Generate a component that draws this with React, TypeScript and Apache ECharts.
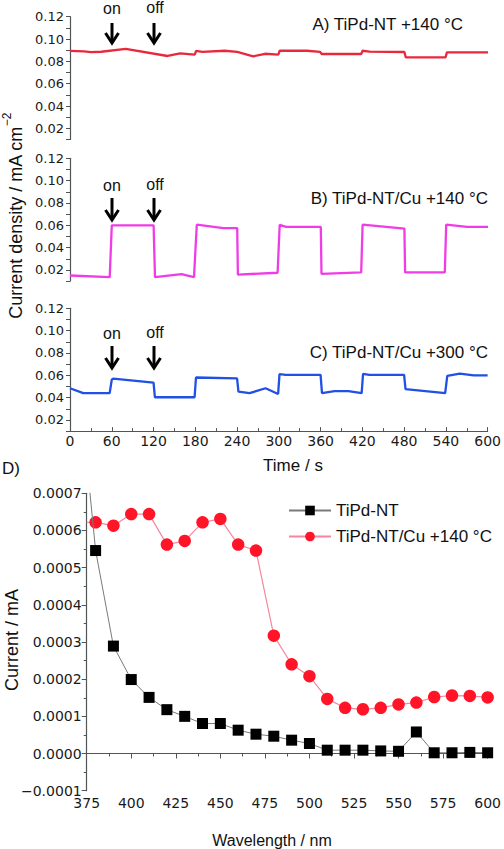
import React, { useEffect, useRef } from "react";
import * as echarts from "echarts";

// ---- Panel A: TiPd-NT +140 °C (time s, current density mA cm^-2)
const timeA = [0, 20, 30, 45, 80, 140, 158, 179, 181, 190, 222, 240, 263, 280, 299, 301, 340, 359, 361, 418, 420, 430, 480, 482, 539, 541, 600];
const currentA = [0.0893, 0.089, 0.0882, 0.0886, 0.0912, 0.0848, 0.0872, 0.086, 0.0893, 0.0885, 0.0895, 0.0885, 0.0845, 0.0868, 0.086, 0.0895, 0.0895, 0.0885, 0.0866, 0.0866, 0.0895, 0.0887, 0.0884, 0.0835, 0.0835, 0.088, 0.088];

// ---- Panel B: TiPd-NT/Cu +140 °C
const timeB = [0, 57, 60, 120, 122, 160, 178, 182, 220, 240, 241, 298, 301, 310, 360, 361, 418, 420, 480, 481, 538, 540, 570, 600];
const currentB = [0.015, 0.0135, 0.06, 0.06, 0.0135, 0.0162, 0.0135, 0.0605, 0.0575, 0.0575, 0.0158, 0.0175, 0.0605, 0.0585, 0.0585, 0.0165, 0.0178, 0.0605, 0.057, 0.0178, 0.0178, 0.0605, 0.0585, 0.0585];

// ---- Panel C: TiPd-NT/Cu +300 °C
const timeC = [0, 19, 57, 60, 62, 120, 122, 179, 181, 240, 242, 258, 281, 299, 301, 310, 360, 362, 380, 400, 419, 421, 430, 480, 482, 539, 542, 560, 580, 600];
const currentC = [0.0484, 0.044, 0.044, 0.056, 0.057, 0.0534, 0.0403, 0.0403, 0.058, 0.0573, 0.0454, 0.044, 0.0484, 0.0433, 0.061, 0.0603, 0.0603, 0.044, 0.0458, 0.0458, 0.044, 0.0612, 0.0603, 0.0603, 0.0476, 0.044, 0.0595, 0.0615, 0.06, 0.06];

// ---- Panel D: photocurrent vs wavelength
const wavelength = [375, 380, 390, 400, 410, 420, 430, 440, 450, 460, 470, 480, 490, 500, 510, 520, 530, 540, 550, 560, 570, 580, 590, 600];
const currentTiPd = [0.00079, 0.000546, 0.000289, 0.000199, 0.000151, 0.000118, 0.0001, 0.0000807, 0.0000807, 0.0000628, 0.000052, 0.0000466, 0.0000359, 0.0000269, 0.000009, 0.000009, 0.000009, 0.000007, 0.000006, 0.000058, 0.000002, 0.000002, 0.000003, 0.000002];
const currentTiPdCu = [0.000622, 0.000622, 0.000613, 0.000644, 0.000644, 0.000562, 0.000572, 0.000622, 0.000631, 0.000562, 0.000546, 0.000317, 0.00024, 0.000208, 0.000147, 0.000123, 0.000119, 0.000123, 0.000132, 0.000137, 0.000152, 0.000156, 0.000155, 0.000151];

const timeTicks = [0, 60, 120, 180, 240, 300, 360, 420, 480, 540, 600];
const panelLabels = ["A) TiPd-NT +140 °C", "B) TiPd-NT/Cu +140 °C", "C) TiPd-NT/Cu +300 °C"];
const seriesNames = ["TiPd-NT", "TiPd-NT/Cu +140 °C"];

const SANS = "'Liberation Sans', Arial, sans-serif";
const NUM = "'DejaVu Sans', sans-serif";
const AXIS = "#505555";

function arrow(x: number, y0: number, y1: number) {
  return [
    { type: "line", shape: { x1: x, y1: y0, x2: x, y2: y1 - 1 }, style: { stroke: "#000", lineWidth: 3 } },
    {
      type: "polyline",
      shape: { points: [[x - 6.5, y1 - 10], [x, y1], [x + 6.5, y1 - 10]] },
      style: { stroke: "#000", lineWidth: 3, fill: null },
    },
  ];
}

function onOff(yText: number, yA0: number, yA1: number) {
  return [
    { type: "text", x: 112, y: yText, style: { text: "on", font: `16px ${SANS}`, fill: "#111", align: "center", verticalAlign: "middle" } },
    { type: "text", x: 155, y: yText - 1, style: { text: "off", font: `16px ${SANS}`, fill: "#111", align: "center", verticalAlign: "middle" } },
    ...arrow(112, yA0, yA1),
    ...arrow(154, yA0, yA1),
  ];
}

export default function App() {
  const ref = useRef<HTMLDivElement>(null);
  useEffect(() => {
    if (!ref.current) return;
    const chart = echarts.init(ref.current, null, { renderer: "svg" });

    const topGrids = [16.7, 158.3, 308.3].map((top) => ({ left: 70, top, width: 418, height: 122.8 }));
    const yTop = (gi: number) => ({
      type: "value",
      gridIndex: gi,
      min: 0.01,
      max: 0.12,
      interval: 0.01,
      axisLine: { show: true, lineStyle: { color: AXIS, width: 1.2 } },
      axisTick: { show: true, length: 4, lineStyle: { color: AXIS } },
      splitLine: { show: false },
      axisLabel: {
        margin: 6,
        fontFamily: NUM,
        fontSize: 13,
        color: "#1a1a1a",
        formatter: (v: number) => {
          const k = Math.round(v * 100);
          return k % 2 === 0 && k >= 2 ? v.toFixed(2) : "";
        },
      },
    });
    const xHidden = (gi: number) => ({ type: "value", gridIndex: gi, min: 0, max: 600, show: false });

    const option: any = {
      animation: false,
      backgroundColor: "#fff",
      grid: [...topGrids, { left: 86.7, top: 493.3, width: 403.3, height: 297.4 }],
      xAxis: [
        xHidden(0),
        xHidden(1),
        {
          type: "value",
          gridIndex: 2,
          min: 0,
          max: 600,
          interval: 60,
          axisLine: { show: true, lineStyle: { color: AXIS, width: 1.2 } },
          axisTick: { show: true, inside: true, length: 4, lineStyle: { color: AXIS } },
          minorTick: { show: true, splitNumber: 2, length: 3, lineStyle: { color: AXIS } },
          splitLine: { show: false },
          axisLabel: {
            margin: 3,
            fontFamily: NUM,
            fontSize: 14,
            color: "#1a1a1a",
            formatter: (v: number) => (timeTicks.includes(v) ? String(v) : ""),
          },
        },
        {
          type: "value",
          gridIndex: 3,
          min: 375,
          max: 600,
          interval: 25,
          axisLine: { show: true, lineStyle: { color: AXIS, width: 1.2 } },
          axisTick: { show: true, length: 5, lineStyle: { color: AXIS } },
          minorTick: { show: true, splitNumber: 2, length: 3, lineStyle: { color: AXIS } },
          splitLine: { show: false },
          axisLabel: { margin: 5, fontFamily: NUM, fontSize: 14, color: "#1a1a1a" },
        },
      ],
      yAxis: [
        yTop(0),
        yTop(1),
        yTop(2),
        {
          type: "value",
          gridIndex: 3,
          min: -0.0001,
          max: 0.0007,
          interval: 0.0001,
          axisLine: { show: true, lineStyle: { color: AXIS, width: 1.2 } },
          axisTick: { show: true, length: 5, lineStyle: { color: AXIS } },
          minorTick: { show: true, splitNumber: 2, length: 3, lineStyle: { color: AXIS } },
          splitLine: { show: false },
          axisLabel: {
            margin: 5,
            fontFamily: NUM,
            fontSize: 14,
            color: "#1a1a1a",
            formatter: (v: number) => {
              const s = (Math.round(v * 1e4) / 1e4).toFixed(4);
              return s.startsWith("-") ? "\u2212" + s.slice(1) : s;
            },
          },
        },
      ],
      legend: {
        left: 283,
        top: 497,
        orient: "vertical",
        itemWidth: 42,
        itemHeight: 12,
        itemGap: 9,
        textStyle: { fontFamily: SANS, fontSize: 17, color: "#111" },
        data: seriesNames,
      },
      series: [
        {
          type: "line",
          xAxisIndex: 0,
          yAxisIndex: 0,
          data: timeA.map((t, i) => [t, currentA[i]]),
          symbol: "none",
          lineStyle: { color: "#e8283c", width: 2.3 },
        },
        {
          type: "line",
          xAxisIndex: 1,
          yAxisIndex: 1,
          data: timeB.map((t, i) => [t, currentB[i]]),
          symbol: "none",
          lineStyle: { color: "#f03ce6", width: 2.3 },
        },
        {
          type: "line",
          xAxisIndex: 2,
          yAxisIndex: 2,
          data: timeC.map((t, i) => [t, currentC[i]]),
          symbol: "none",
          lineStyle: { color: "#2150e4", width: 2.3 },
        },
        {
          name: seriesNames[0],
          type: "line",
          xAxisIndex: 3,
          yAxisIndex: 3,
          data: wavelength.map((w, i) => (i === 0 ? { value: [w, currentTiPd[i]], symbol: "none" } : [w, currentTiPd[i]])),
          symbol: "rect",
          symbolSize: 11,
          itemStyle: { color: "#000" },
          lineStyle: { color: "#7a7a7a", width: 1 },
          z: 3,
        },
        {
          name: seriesNames[1],
          type: "line",
          xAxisIndex: 3,
          yAxisIndex: 3,
          data: wavelength.map((w, i) => (i === 0 ? { value: [w, currentTiPdCu[i]], symbol: "none" } : [w, currentTiPdCu[i]])),
          symbol: "circle",
          symbolSize: 12.5,
          itemStyle: { color: "#ff1428" },
          lineStyle: { color: "#f4889c", width: 1.2 },
          z: 2,
        },
      ],
      graphic: [
        { type: "text", x: 463, y: 24, style: { text: panelLabels[0], font: `17px ${SANS}`, fill: "#111", align: "right", verticalAlign: "middle" } },
        { type: "text", x: 488, y: 198, style: { text: panelLabels[1], font: `17px ${SANS}`, fill: "#111", align: "right", verticalAlign: "middle" } },
        { type: "text", x: 488, y: 352, style: { text: panelLabels[2], font: `17px ${SANS}`, fill: "#111", align: "right", verticalAlign: "middle" } },
        ...onOff(8.5, 23, 43),
        ...onOff(185.5, 198, 220),
        ...onOff(333, 346, 368),
        {
          type: "text",
          x: 13,
          y: 216,
          rotation: Math.PI / 2,
          style: {
            text: "{n|Current density / mA cm}{s|\u22122}",
            align: "center",
            verticalAlign: "middle",
            fill: "#111",
            rich: {
              n: { fontFamily: SANS, fontSize: 18, lineHeight: 24, verticalAlign: "bottom", fill: "#111" },
              s: { fontFamily: SANS, fontSize: 12, lineHeight: 12, verticalAlign: "top", fill: "#111" },
            },
          },
        },
        { type: "text", x: 293, y: 465, style: { text: "Time / s", font: `17px ${SANS}`, fill: "#111", align: "center", verticalAlign: "middle" } },
        { type: "text", x: 2, y: 468, style: { text: "D)", font: `17px ${SANS}`, fill: "#111", align: "left", verticalAlign: "middle" } },
        {
          type: "text",
          x: 12,
          y: 640,
          rotation: Math.PI / 2,
          style: { text: "Current / mA", font: `18px ${SANS}`, fill: "#111", align: "center", verticalAlign: "middle" },
        },
        { type: "text", x: 272, y: 840, style: { text: "Wavelength / nm", font: `16px ${SANS}`, fill: "#111", align: "center", verticalAlign: "middle" } },
      ],
    };
    chart.setOption(option);
    return () => chart.dispose();
  }, []);
  return <div ref={ref} style={{ position: "absolute", left: 0, top: 0, width: 504, height: 849 }} />;
}
